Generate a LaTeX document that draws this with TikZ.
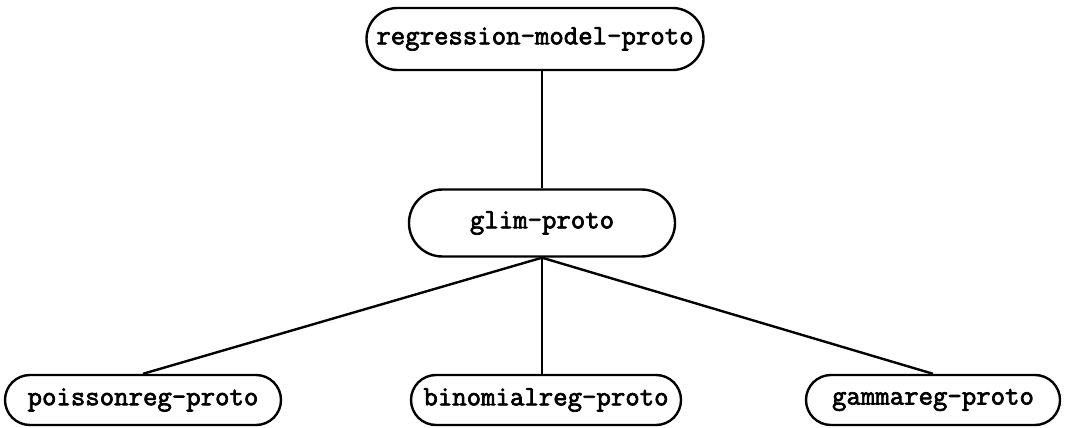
\documentclass[tikz,border=0pt]{standalone}
\usepackage{fontspec}
\newfontfamily\protofont{Latin Modern Mono}[FakeBold=2.5]
\usetikzlibrary{shapes.misc}
\tikzset{
  proto/.style={draw, line width=2.4pt, rounded rectangle, inner sep=0pt,
    font=\protofont\fontsize{28}{32}\selectfont},
  link/.style={line width=2.4pt}
}
\begin{document}
\begin{tikzpicture}[x=1pt,y=-1pt]
\useasboundingbox (0,0) rectangle (1066,428);
\node[proto, minimum width=337pt, minimum height=62pt] (reg) at (535,39) {regression-model-proto};
\node[proto, minimum width=266pt, minimum height=67pt] (glim) at (542,223) {glim-proto};
\node[proto, minimum width=276pt, minimum height=50pt] (pois) at (143,400) {poissonreg-proto};
\node[proto, minimum width=270pt, minimum height=50pt] (bin) at (546,400) {binomialreg-proto};
\node[proto, minimum width=254pt, minimum height=50pt] (gam) at (933,400) {gammareg-proto};
\draw[link] (reg.south -| glim.south) -- (glim.north);
\draw[link] (glim.south) -- (pois.north);
\draw[link] (glim.south) -- (glim.south |- bin.north);
\draw[link] (glim.south) -- (gam.north);
\end{tikzpicture}
\end{document}
